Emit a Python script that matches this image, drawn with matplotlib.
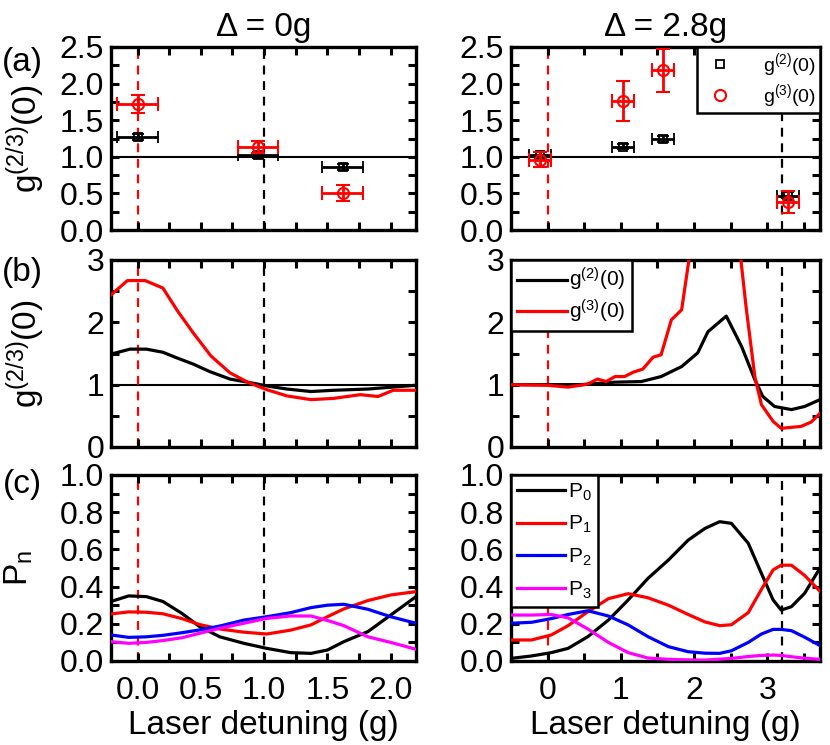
#!/usr/bin/env python3

import matplotlib
matplotlib.use('Agg')
import matplotlib.pyplot as plt
from matplotlib.ticker import MultipleLocator, FormatStrFormatter

plt.rcParams['font.family'] = ['Liberation Sans', 'DejaVu Sans']
plt.rcParams['mathtext.fontset'] = 'custom'
plt.rcParams['mathtext.rm'] = 'Liberation Sans'
plt.rcParams['mathtext.it'] = 'Liberation Sans:italic'

# (a) measured g2 / g3, delta = 0
a0_x = [0.0, 0.95, 1.62]
a0_g2 = [1.27, 1.03, 0.86]
a0_g2_err = [0.04, 0.04, 0.04]
a0_g3 = [1.72, 1.13, 0.51]
a0_g3_err = [0.12, 0.08, 0.11]
a0_xerr = [0.16, 0.16, 0.16]

# (a) measured g2 / g3, delta = 2.8
a1_x = [-0.1, 1.03, 1.58, 3.28]
a1_g2 = [1.03, 1.14, 1.24, 0.47]
a1_g2_err = [0.04, 0.04, 0.04, 0.05]
a1_g3 = [0.96, 1.76, 2.18, 0.38]
a1_g3_err = [0.1, 0.27, 0.29, 0.15]
a1_xerr = [0.15, 0.15, 0.15, 0.15]

# (b) simulated g2 / g3, delta = 0
b0_x3 = [-0.21, -0.08, 0.06, 0.2, 0.32, 0.44, 0.58, 0.73, 0.87, 1.02,
         1.18, 1.37, 1.55, 1.76, 1.9, 2.02, 2.2]
b0_g3 = [2.44, 2.67, 2.67, 2.55, 2.17, 1.83, 1.46, 1.19, 1.04, 0.92,
         0.82, 0.76, 0.78, 0.84, 0.81, 0.91, 0.91]
b0_x2 = [-0.21, -0.06, 0.07, 0.2, 0.31, 0.44, 0.57, 0.73, 0.87, 1.02,
         1.18, 1.37, 1.55, 1.82, 2.2]
b0_g2 = [1.49, 1.57, 1.57, 1.52, 1.43, 1.33, 1.21, 1.09, 1.04, 0.98,
         0.93, 0.89, 0.91, 0.93, 0.99]

# (b) simulated g2 / g3, delta = 2.8
b1_x2 = [-0.5, 0.0, 0.46, 0.92, 1.28, 1.55, 1.83, 2.05, 2.19, 2.44,
         2.65, 2.83, 2.94, 3.1, 3.33, 3.51, 3.72]
b1_g2 = [1.0, 1.0, 1.0, 1.04, 1.05, 1.13, 1.29, 1.51, 1.85, 2.1,
         1.61, 1.08, 0.81, 0.65, 0.6, 0.65, 0.76]
b1_x3 = [-0.5, 0.0, 0.28, 0.55, 0.68, 0.8, 0.92, 1.05, 1.17, 1.3, 1.44,
         1.55, 1.69, 1.83, 1.93, 2.1, 2.3, 2.5, 2.64, 2.71, 2.83, 2.92,
         3.08, 3.19, 3.46, 3.6, 3.72]
b1_g3 = [1.0, 0.99, 0.96, 1.01, 1.09, 1.05, 1.13, 1.13, 1.2, 1.25, 1.44,
         1.48, 2.04, 2.2, 3.0, 4.5, 5.5, 4.5, 3.0, 2.25, 1.13, 0.68,
         0.41, 0.3, 0.33, 0.4, 0.54]

# (c) photon number distribution, delta = 0
c0_x = [-0.21, -0.07, 0.07, 0.2, 0.35, 0.49, 0.65, 0.84, 1.02, 1.21,
        1.37, 1.5, 1.63, 1.82, 2.0, 2.2]
c0_p0 = [0.32, 0.35, 0.346, 0.32, 0.256, 0.185, 0.13, 0.095, 0.068,
         0.045, 0.041, 0.059, 0.104, 0.158, 0.247, 0.346]
c0_p1 = [0.253, 0.264, 0.262, 0.254, 0.228, 0.196, 0.172, 0.155, 0.145,
         0.166, 0.194, 0.238, 0.28, 0.325, 0.355, 0.373]
c0_p2 = [0.14, 0.127, 0.13, 0.138, 0.152, 0.167, 0.188, 0.22, 0.238,
         0.26, 0.287, 0.3, 0.305, 0.278, 0.238, 0.203]
c0_p3 = [0.104, 0.095, 0.1, 0.11, 0.125, 0.149, 0.176, 0.203, 0.229,
         0.242, 0.242, 0.218, 0.19, 0.13, 0.1, 0.063]

# (c) photon number distribution, delta = 2.8
c1_x = [-0.5, -0.22, 0.05, 0.28, 0.55, 0.83, 1.1, 1.37, 1.65, 1.92, 2.15,
        2.35, 2.51, 2.74, 2.92, 3.08, 3.19, 3.33, 3.51, 3.72]
c1_p0 = [0.014, 0.027, 0.045, 0.068, 0.131, 0.22, 0.328, 0.444, 0.543,
         0.65, 0.713, 0.749, 0.74, 0.633, 0.471, 0.328, 0.274, 0.292,
         0.364, 0.5]
c1_p1 = [0.113, 0.113, 0.14, 0.19, 0.265, 0.335, 0.362, 0.34, 0.3, 0.25,
         0.21, 0.19, 0.195, 0.26, 0.385, 0.49, 0.515, 0.515, 0.46, 0.375]
c1_p2 = [0.203, 0.208, 0.228, 0.25, 0.27, 0.242, 0.194, 0.131, 0.077,
         0.05, 0.042, 0.041, 0.055, 0.1, 0.145, 0.17, 0.17, 0.163, 0.128,
         0.083]
c1_p3 = [0.247, 0.247, 0.25, 0.232, 0.172, 0.1, 0.045, 0.016, 0.009, 0.006,
         0.005, 0.01, 0.014, 0.024, 0.03, 0.032, 0.03, 0.023, 0.015, 0.009]

G_LABEL = 'g$^{(2/3)}$(0)'
FS = 24
TFS = 23
LW = 2.3


def style_axis(ax, left_col, ylim, ymajor, yminor, yfmt):
    if left_col:
        ax.set_xlim(-0.21, 2.2)
        ax.xaxis.set_major_locator(MultipleLocator(0.5))
        ax.xaxis.set_minor_locator(MultipleLocator(0.25))
        ax.xaxis.set_major_formatter(FormatStrFormatter('%.1f'))
    else:
        ax.set_xlim(-0.5, 3.72)
        ax.xaxis.set_major_locator(MultipleLocator(1))
        ax.xaxis.set_minor_locator(MultipleLocator(0.5))
    ax.set_ylim(*ylim)
    ax.yaxis.set_major_locator(MultipleLocator(ymajor))
    ax.yaxis.set_minor_locator(MultipleLocator(yminor))
    ax.yaxis.set_major_formatter(FormatStrFormatter(yfmt))
    ax.tick_params(which='both', direction='in', top=True, right=True,
                   length=6, width=2.2, labelsize=TFS, pad=5)
    ax.tick_params(axis='x', pad=11)
    for sp in ax.spines.values():
        sp.set_linewidth(2.4)


def vlines(ax, xs, colors):
    for x, c in zip(xs, colors):
        ax.axvline(x, color=c, ls=(0, (4, 3)), lw=1.6, zorder=1)


def box_legend(ax, **kw):
    leg = ax.legend(fancybox=False, framealpha=1, edgecolor='black',
                    borderaxespad=0, **kw)
    leg.get_frame().set_linewidth(1.8)
    leg.set_zorder(10)
    return leg


fig = plt.figure(figsize=(8.3, 7.45), dpi=100)
lx, lw_ = 111 / 830, 305 / 830
rx, rw = 511 / 830, 309 / 830
rows = [(1 - 230 / 745, 183 / 745), (1 - 447 / 745, 187 / 745),
        (1 - 661 / 745, 186 / 745)]

ax_a0 = fig.add_axes([lx, rows[0][0], lw_, rows[0][1]])
ax_a1 = fig.add_axes([rx, rows[0][0], rw, rows[0][1]])
ax_b0 = fig.add_axes([lx, rows[1][0], lw_, rows[1][1]])
ax_b1 = fig.add_axes([rx, rows[1][0], rw, rows[1][1]])
ax_c0 = fig.add_axes([lx, rows[2][0], lw_, rows[2][1]])
ax_c1 = fig.add_axes([rx, rows[2][0], rw, rows[2][1]])

# row (a)
for ax, x, g2, e2, g3, e3, xe in [
        (ax_a0, a0_x, a0_g2, a0_g2_err, a0_g3, a0_g3_err, a0_xerr),
        (ax_a1, a1_x, a1_g2, a1_g2_err, a1_g3, a1_g3_err, a1_xerr)]:
    ax.axhline(1.0, color='black', lw=1.5, zorder=1)
    ax.errorbar(x, g2, yerr=e2, xerr=xe, fmt='s', mfc='none', mec='black',
                ecolor='black', ms=6, mew=1.3, elinewidth=2, capsize=4,
                capthick=2, label='g$^{(2)}$(0)', zorder=3)
    ax.errorbar(x, g3, yerr=e3, xerr=xe, fmt='o', mfc='none', mec='red',
                ecolor='red', ms=8, mew=1.5, elinewidth=2, capsize=5,
                capthick=2, label='g$^{(3)}$(0)', zorder=4)
vlines(ax_a0, [0.0, 1.0], ['red', 'black'])
vlines(ax_a1, [0.0, 3.2], ['red', 'black'])
h, l = ax_a1.get_legend_handles_labels()
box_legend(ax_a1, handles=[hh[0] for hh in h], labels=l, loc='upper right',
           fontsize=14, handletextpad=1.2, labelspacing=0.15, borderpad=0.2)

# row (b)
for ax in (ax_b0, ax_b1):
    ax.axhline(1.0, color='black', lw=1.5, zorder=1)
ax_b0.plot(b0_x2, b0_g2, color='black', lw=LW, zorder=3)
ax_b0.plot(b0_x3, b0_g3, color='red', lw=LW, zorder=3)
ax_b1.plot(b1_x2, b1_g2, color='black', lw=LW, zorder=3,
           label='g$^{(2)}$(0)')
ax_b1.plot(b1_x3, b1_g3, color='red', lw=LW, zorder=3,
           label='g$^{(3)}$(0)')
vlines(ax_b0, [0.0, 1.0], ['red', 'black'])
vlines(ax_b1, [0.0, 3.2], ['red', 'black'])
box_legend(ax_b1, loc='upper left', fontsize=15, handlelength=2.4,
           handletextpad=0.1, labelspacing=0.2, borderpad=0.3)

# row (c)
colors = ['black', 'red', 'blue', 'magenta']
for ax, x, ps in [(ax_c0, c0_x, [c0_p0, c0_p1, c0_p2, c0_p3]),
                  (ax_c1, c1_x, [c1_p0, c1_p1, c1_p2, c1_p3])]:
    for i, (p, c) in enumerate(zip(ps, colors)):
        ax.plot(x, p, color=c, lw=LW, zorder=3, label='P$_{%d}$' % i)
vlines(ax_c0, [0.0, 1.0], ['red', 'black'])
vlines(ax_c1, [0.0, 3.2], ['red', 'black'])
box_legend(ax_c1, loc='upper left', fontsize=15, handlelength=2.3,
           handletextpad=0.15, labelspacing=0.55, borderpad=0.3)

style_axis(ax_a0, True, (0, 2.5), 0.5, 0.25, '%.1f')
style_axis(ax_a1, False, (0, 2.5), 0.5, 0.25, '%.1f')
style_axis(ax_b0, True, (0, 3), 1, 0.5, '%d')
style_axis(ax_b1, False, (0, 3), 1, 0.5, '%d')
style_axis(ax_c0, True, (0, 1.0), 0.2, 0.1, '%.1f')
style_axis(ax_c1, False, (0, 1.0), 0.2, 0.1, '%.1f')

for ax in (ax_a0, ax_a1, ax_b0, ax_b1):
    ax.tick_params(labelbottom=False)

ax_a0.set_title('Δ = 0g', fontsize=FS, pad=8)
ax_a1.set_title('Δ = 2.8g', fontsize=FS, pad=8)

ax_a0.set_ylabel(G_LABEL, fontsize=FS)
ax_b0.set_ylabel(G_LABEL, fontsize=FS)
ax_c0.set_ylabel('P$_\\mathrm{n}$', fontsize=FS)
ax_a0.yaxis.set_label_coords(-0.21, 0.5)
ax_b0.yaxis.set_label_coords(-0.21, 0.5)
ax_c0.yaxis.set_label_coords(-0.25, 0.5)

ax_c0.set_xlabel('Laser detuning (g)', fontsize=FS, labelpad=3)
ax_c1.set_xlabel('Laser detuning (g)', fontsize=FS, labelpad=3)

fig.text(22 / 830, 1 - 62 / 745, '(a)', fontsize=FS, ha='center', va='center')
fig.text(22 / 830, 1 - 272 / 745, '(b)', fontsize=FS, ha='center', va='center')
fig.text(22 / 830, 1 - 485 / 745, '(c)', fontsize=FS, ha='center', va='center')

plt.savefig('out.png', dpi=100)
